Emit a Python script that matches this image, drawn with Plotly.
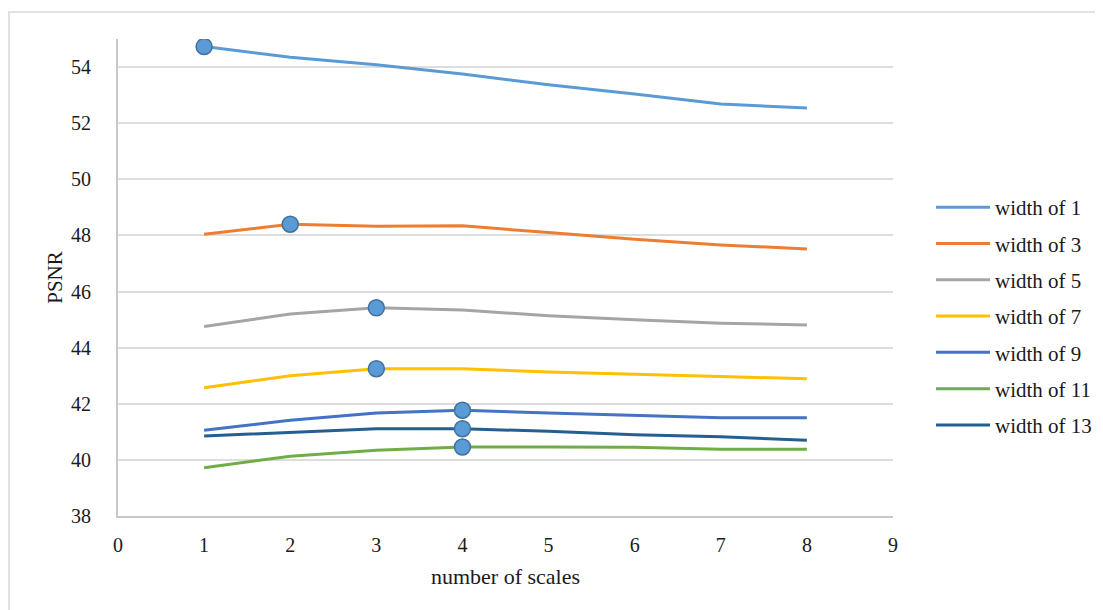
import plotly.graph_objects as go

scales = [1, 2, 3, 4, 5, 6, 7, 8]
names = ["width of 1", "width of 3", "width of 5", "width of 7",
         "width of 9", "width of 11", "width of 13"]
w1 = [54.73, 54.35, 54.08, 53.75, 53.37, 53.04, 52.68, 52.54]
w3 = [48.04, 48.40, 48.33, 48.34, 48.10, 47.86, 47.66, 47.52]
w5 = [44.75, 45.20, 45.42, 45.34, 45.14, 44.99, 44.87, 44.81]
w7 = [42.57, 43.00, 43.25, 43.25, 43.13, 43.04, 42.97, 42.89]
w9 = [41.06, 41.41, 41.67, 41.77, 41.67, 41.59, 41.50, 41.50]
w11 = [39.72, 40.13, 40.34, 40.46, 40.46, 40.45, 40.38, 40.38]
w13 = [40.85, 40.99, 41.11, 41.11, 41.02, 40.90, 40.82, 40.70]
series = [w1, w3, w5, w7, w9, w11, w13]
colors = ["#5B9BD5", "#ED7D31", "#A5A5A5", "#FFC000", "#4472C4", "#70AD47", "#255E91"]
peak_scale = [1, 2, 3, 3, 4, 4, 4]  # highlighted best scale per width

FONT = "Liberation Serif"
fig = go.Figure()
for i, (nm, ys) in enumerate(zip(names, series)):
    fig.add_trace(go.Scatter(x=scales, y=ys, name=nm, mode="lines",
                             line=dict(color=colors[i], width=3),
                             legendgroup=nm))

px_ = peak_scale
py_ = [series[i][scales.index(p)] for i, p in enumerate(peak_scale)]
fig.add_trace(go.Scatter(x=px_, y=py_, mode="markers", showlegend=False,
                         marker=dict(size=16, color="#5B9BD5",
                                     line=dict(color="#41719C", width=1.5))))

W, H = 1095, 602
L, R, T, B = 110, 210, 31, 94
pw, ph = W - L - R, H - T - B

fig.update_layout(
    width=W, height=H,
    margin=dict(l=L, r=R, t=T, b=B, autoexpand=False),
    paper_bgcolor="white", plot_bgcolor="white",
    font=dict(family=FONT, size=20, color="#1a1a1a"),
    xaxis=dict(range=[0, 9], dtick=1, tick0=0, showgrid=False,
               showline=True, linecolor="#C8C8C8", linewidth=2,
               zeroline=False, ticks="", ticklabelstandoff=10,
               tickfont=dict(family=FONT, size=20),
               title=dict(text="number of scales", standoff=14,
                          font=dict(family=FONT, size=22))),
    yaxis=dict(range=[38, 55], tickvals=[38, 40, 42, 44, 46, 48, 50, 52, 54],
               showgrid=True, gridcolor="#DDDDDD", gridwidth=1.5,
               showline=True, linecolor="#C8C8C8", linewidth=2,
               zeroline=False, ticks="", ticklabelstandoff=21,
               tickfont=dict(family=FONT, size=20),
               title=dict(text="PSNR", standoff=3,
                          font=dict(family=FONT, size=21))),
    legend=dict(xref="container", yref="container",
                x=923 / W, y=1 - 179 / H, xanchor="left", yanchor="top",
                traceorder="grouped", tracegroupgap=6, itemwidth=54,
                font=dict(family=FONT, size=21, color="#1a1a1a"),
                bgcolor="rgba(0,0,0,0)"),
    shapes=[
        dict(type="line", xref="paper", yref="paper",
             x0=(0 - L) / pw, x1=(W - L) / pw,
             y0=(H - B - 4) / ph, y1=(H - B - 4) / ph,
             line=dict(color="#D9D9D9", width=1.5)),
        dict(type="line", xref="paper", yref="paper",
             x0=(1 - L) / pw, x1=(1 - L) / pw,
             y0=(H - B - 4) / ph, y1=-B / ph,
             line=dict(color="#D9D9D9", width=1.5)),
    ],
)
fig.write_html("out.html")
